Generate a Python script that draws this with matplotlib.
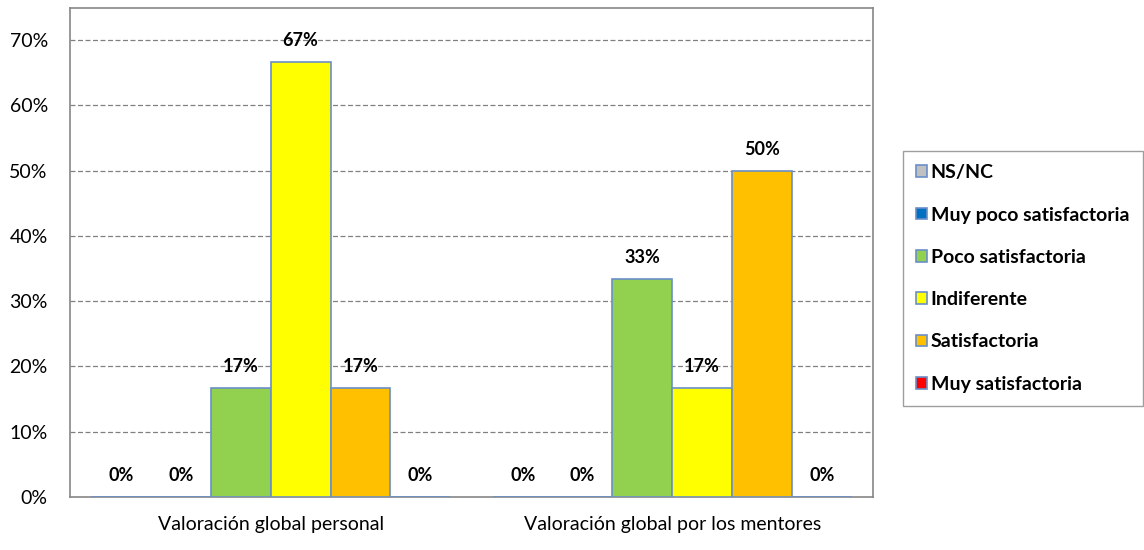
import matplotlib
matplotlib.use("Agg")
import matplotlib.pyplot as plt
import numpy as np

categories = ["Valoración global personal", "Valoración global por los mentores"]
series_names = ["NS/NC", "Muy poco satisfactoria", "Poco satisfactoria",
                "Indiferente", "Satisfactoria", "Muy satisfactoria"]
ns_nc = [0.0, 0.0]
muy_poco = [0.0, 0.0]
poco = [0.1667, 0.3333]
indiferente = [0.6667, 0.1667]
satisfactoria = [0.1667, 0.50]
muy_satisf = [0.0, 0.0]
series_values = [ns_nc, muy_poco, poco, indiferente, satisfactoria, muy_satisf]
colors = ["#C0C0C0", "#0070C0", "#92D050", "#FFFF00", "#FFC000", "#FF0000"]
yticks = [0, 0.1, 0.2, 0.3, 0.4, 0.5, 0.6, 0.7]

plt.rcParams['font.family'] = ['Lato', 'DejaVu Sans']

fig = plt.figure(figsize=(11.44, 5.5), dpi=100)
ax = fig.add_axes([70/1144, 1-497/550, (873-70)/1144, (497-8)/550])

x = np.arange(len(categories))
bw = 0.149
n = len(series_names)
handles = []
for i, (name, vals, c) in enumerate(zip(series_names, series_values, colors)):
    pos = x + (i - (n-1)/2) * bw
    b = ax.bar(pos, vals, bw, color=c, edgecolor="#6A8FC8", linewidth=1.2, label=name, zorder=3)
    handles.append(b)
    for px, v in zip(pos, vals):
        ax.annotate(f"{round(v*100):.0f}%", (px, v), xytext=(0, 15.5), textcoords="offset points",
                    ha="center", va="center", fontsize=13, fontweight="bold", zorder=4)

ax.set_xlim(-0.5, 1.5)
ax.set_ylim(0, 0.749)
ax.set_yticks(yticks)
ax.set_yticklabels([f"{int(round(t*100))}%" for t in yticks], fontsize=14)
ax.set_xticks(x)
ax.set_xticklabels(categories, fontsize=14)
ax.tick_params(axis="both", length=0)
ax.tick_params(axis="x", pad=14)
ax.tick_params(axis="y", pad=16)
for t in yticks[1:]:
    ax.axhline(t, color="#808080", linestyle=(0, (4, 2)), linewidth=0.9, zorder=1)
for s in ax.spines.values():
    s.set_color("#868686")
    s.set_linewidth(1.2)

leg = fig.legend(handles=handles, labels=series_names, loc="upper left",
                 bbox_to_anchor=(903/1144, 1-151/550), bbox_transform=fig.transFigure,
                 prop={"weight": "bold", "size": 14}, frameon=True, fancybox=False,
                 edgecolor="#868686", handlelength=0.55, handleheight=0.55,
                 handletextpad=0.2, labelspacing=1.3, borderpad=0.68, borderaxespad=0)
leg.get_frame().set_linewidth(1.0)

fig.savefig("out.png", dpi=100)
